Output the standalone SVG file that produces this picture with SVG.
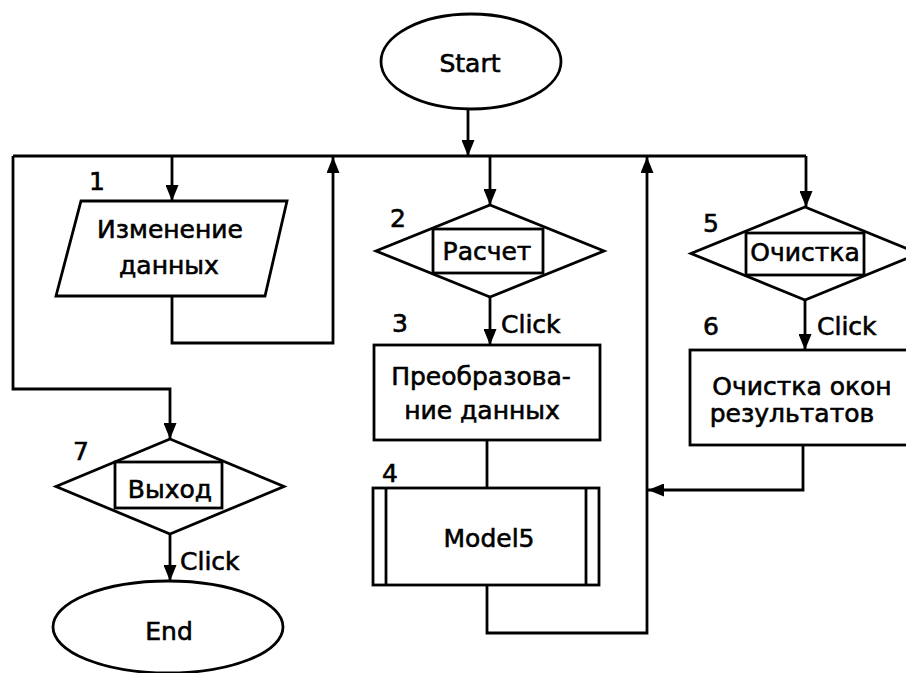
<svg xmlns="http://www.w3.org/2000/svg" width="906" height="673" viewBox="0 0 906 673">
<defs>
<marker id="arr" markerUnits="userSpaceOnUse" markerWidth="16" markerHeight="13" refX="16" refY="6.5" orient="auto">
<path d="M0,0 L16,6.5 L0,13 z" fill="#000"/>
</marker>
<style>
.s{fill:#fff;stroke:#000;stroke-width:2.8}
.c{fill:none;stroke:#000;stroke-width:2.8}
.a{marker-end:url(#arr)}
text{font-family:"DejaVu Sans","Liberation Sans",sans-serif;font-size:25px;fill:#000;stroke:#000;stroke-width:0.6}
.m{text-anchor:middle}
</style>
</defs>
<rect width="906" height="673" fill="#fff"/>
<g id="connectors">
<path class="c" d="M13,156 H806"/>
<path class="c a" d="M806,156 V207"/>
<path class="c a" d="M468,109 V156"/>
<path class="c a" d="M13,156 V389 H170 V439"/>
<path class="c a" d="M172,156 V201"/>
<path class="c a" d="M490,156 V205"/>
<path class="c a" d="M172,296 V343 H333 V157"/>
<path class="c a" d="M490,297 V345"/>
<path class="c" d="M487,440 V488"/>
<path class="c a" d="M487,585 V633 H647 V157"/>
<path class="c a" d="M805,300 V350"/>
<path class="c a" d="M803,445 V490 H648"/>
<path class="c a" d="M170,534 V581"/>
<text x="501" y="333">Click</text>
<text x="817" y="335">Click</text>
<text x="180" y="570">Click</text>
</g>
<g id="start">
<ellipse class="s" cx="471" cy="61.5" rx="90" ry="47.5"/>
<text class="m" x="470" y="72">Start</text>
</g>
<g id="node1">
<polygon class="s" points="81,201 287,201 265,296 56,296"/>
<text class="m" x="97" y="190">1</text>
<text class="m" x="170" y="238">Изменение</text>
<text class="m" x="169" y="274">данных</text>
</g>
<g id="node2">
<polygon class="s" points="490,205 604,251 490,297 376,251"/>
<rect class="s" x="433" y="229" width="110" height="44"/>
<text class="m" x="398" y="227">2</text>
<text class="m" x="487" y="260">Расчет</text>
</g>
<g id="node3">
<rect class="s" x="374" y="345" width="226" height="95"/>
<text class="m" x="400" y="332">3</text>
<text class="m" x="481" y="385">Преобразова-</text>
<text class="m" x="482" y="419">ние данных</text>
</g>
<g id="node4">
<rect class="s" x="373" y="488" width="226" height="97"/>
<line class="c" x1="386" y1="488" x2="386" y2="585"/>
<line class="c" x1="586" y1="488" x2="586" y2="585"/>
<text class="m" x="390" y="482">4</text>
<text class="m" x="489" y="547">Model5</text>
</g>
<g id="node5">
<polygon class="s" points="805,207 919,253.5 805,300 691,253.5"/>
<rect class="s" x="746" y="233" width="118" height="42"/>
<text class="m" x="711" y="232">5</text>
<text class="m" x="805" y="261">Очистка</text>
</g>
<g id="node6">
<rect class="s" x="690" y="350" width="230" height="95"/>
<text class="m" x="711" y="335">6</text>
<text class="m" x="802" y="395">Очистка окон</text>
<text class="m" x="792" y="422">результатов</text>
</g>
<g id="node7">
<polygon class="s" points="170,439 284,486.5 170,534 56,486.5"/>
<rect class="s" x="115" y="462" width="107" height="46"/>
<text class="m" x="81" y="460">7</text>
<text class="m" x="170" y="498">Выход</text>
</g>
<g id="end">
<ellipse class="s" cx="168" cy="627" rx="115" ry="46"/>
<text class="m" x="169" y="640">End</text>
</g>
</svg>
